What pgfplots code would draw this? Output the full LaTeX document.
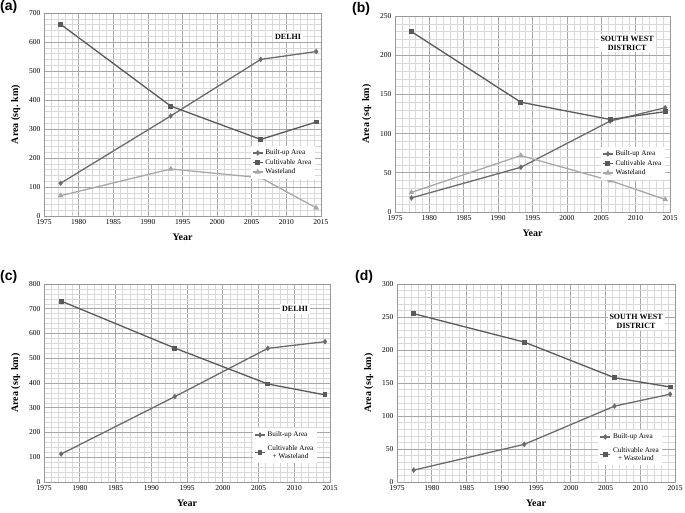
\documentclass[border=0pt]{standalone}
\usepackage{fontspec}
\setmainfont{Liberation Serif}
\newfontfamily\panelfont{Liberation Sans}
\usepackage{pgfplots}
\pgfplotsset{compat=1.18}
\definecolor{cBU}{HTML}{6C6C6C}
\definecolor{cCU}{HTML}{5A5A5A}
\definecolor{cWA}{HTML}{A8A8A8}
\pgfplotsset{
 panel/.style={
  scale only axis,
  xmin=1975, xmax=2015, xtick={1975,1980,...,2015}, minor x tick num=4, minor y tick num=4,
  grid=both,
  major grid style={draw=black!35, line width=0.6pt},
  minor grid style={draw=black!15, line width=0.4pt},
  axis line style={draw=black!40},
  major tick length=0pt, minor tick length=0pt,
  ticklabel style={font=\fontsize{7.5}{8}\selectfont},
  /pgf/number format/assume math mode=true,
  /pgf/number format/1000 sep={},
  xlabel={Year}, ylabel={Area (sq. km)},
  label style={font=\fontsize{10}{11}\selectfont\bfseries},
  xlabel style={yshift=-2.5pt},
  ylabel style={yshift=2pt},
  legend style={draw=none, fill=white, font=\fontsize{7.2}{8}\selectfont, anchor=north east, inner sep=1.5pt, row sep=-1pt},
  legend cell align=left,
  legend image code/.code={\draw[mark repeat=2,mark phase=2,##1] plot coordinates {(0pt,0pt) (5pt,0pt) (10pt,0pt)};},
 },
 bu/.style={color=cBU, line width=1.3pt, mark=diamond*, mark size=1.8pt},
 cu/.style={color=cCU, line width=1.3pt, mark=square*, mark size=1.8pt},
 wa/.style={color=cWA, line width=1.3pt, mark=triangle*, mark size=2.1pt},
}
\tikzset{tag/.style={fill=white, font=\fontsize{8}{9}\selectfont\bfseries, align=center, inner sep=2pt}}
\begin{document}
\begin{tikzpicture}[x=1pt,y=1pt]
\useasboundingbox (0,0) rectangle (685,513);
% (a)
\begin{axis}[panel, at={(44pt,297pt)}, anchor=south west, width=277pt, height=203pt,
  ymin=0, ymax=700, ytick={0,100,...,700},
  legend style={at={(0.978,0.345)}}]
\addplot[bu] coordinates {(1977.4,113) (1993.3,345) (2006.3,540) (2014.3,567)};
\addplot[cu] coordinates {(1977.4,661) (1993.3,379) (2006.3,264) (2014.3,324)};
\addplot[wa] coordinates {(1977.4,70) (1993.3,162) (2006.3,132) (2014.3,28)};
\legend{Built-up Area, Cultivable Area, Wasteland}
\node[tag] at (rel axis cs:0.881,0.882) {DELHI};
\end{axis}
% (b)
\begin{axis}[panel, at={(395pt,301pt)}, anchor=south west, width=275pt, height=196pt,
  ymin=0, ymax=250, ytick={0,50,...,250},
  legend style={at={(0.982,0.332)}}]
\addplot[bu] coordinates {(1977.4,18) (1993.3,57) (2006.3,116) (2014.3,133)};
\addplot[cu] coordinates {(1977.4,230) (1993.3,140) (2006.3,118) (2014.3,128)};
\addplot[wa] coordinates {(1977.4,25) (1993.3,72) (2006.3,40) (2014.3,16)};
\legend{Built-up Area, Cultivable Area, Wasteland}
\node[tag] at (rel axis cs:0.844,0.862) {SOUTH WEST\\DISTRICT};
\end{axis}
% (c)
\begin{axis}[panel, at={(44pt,31pt)}, anchor=south west, width=286pt, height=198pt,
  ymin=0, ymax=800, ytick={0,100,...,800},
  legend style={at={(0.955,0.273)}, row sep=3pt}]
\addplot[bu] coordinates {(1977.4,113) (1993.3,345) (2006.3,540) (2014.3,567)};
\addplot[cu] coordinates {(1977.4,731) (1993.3,541) (2006.3,396) (2014.3,352)};
\addlegendentry{Built-up Area}
\addlegendentry{\shortstack{Cultivable Area\\+ Wasteland}}
\node[tag] at (rel axis cs:0.878,0.874) {DELHI};
\end{axis}
% (d)
\begin{axis}[panel, at={(397pt,31pt)}, anchor=south west, width=278pt, height=198pt,
  ymin=0, ymax=300, ytick={0,50,...,300},
  legend style={at={(0.955,0.263)}, row sep=3pt}]
\addplot[bu] coordinates {(1977.4,18) (1993.3,57) (2006.3,115) (2014.3,133)};
\addplot[cu] coordinates {(1977.4,255) (1993.3,212) (2006.3,158) (2014.3,144)};
\addlegendentry{Built-up Area}
\addlegendentry{\shortstack{Cultivable Area\\+ Wasteland}}
\node[tag] at (rel axis cs:0.86,0.813) {SOUTH WEST\\DISTRICT};
\end{axis}
% panel letters
\node[anchor=north west, inner sep=0pt, font=\panelfont\bfseries\fontsize{14}{16}\selectfont] at (0,513) {(a)};
\node[anchor=north west, inner sep=0pt, font=\panelfont\bfseries\fontsize{14}{16}\selectfont] at (352,511) {(b)};
\node[anchor=north west, inner sep=0pt, font=\panelfont\bfseries\fontsize{14}{16}\selectfont] at (0,243) {(c)};
\node[anchor=north west, inner sep=0pt, font=\panelfont\bfseries\fontsize{14}{16}\selectfont] at (355,243) {(d)};
\end{tikzpicture}
\end{document}
